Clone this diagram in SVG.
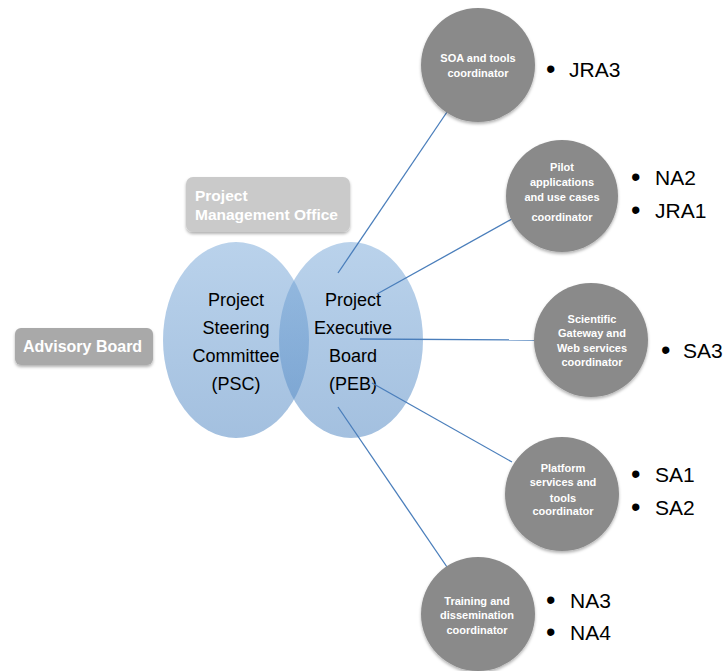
<svg xmlns="http://www.w3.org/2000/svg" width="726" height="671" viewBox="0 0 726 671">
<defs>
<linearGradient id="blue" x1="0" y1="0" x2="0" y2="1">
<stop offset="0" stop-color="#7aa9d9"/>
<stop offset="1" stop-color="#4f86c2"/>
</linearGradient>
<filter id="sh" x="-20%" y="-20%" width="140%" height="150%">
<feDropShadow dx="0" dy="2" stdDeviation="1.5" flood-color="#000" flood-opacity="0.3"/>
</filter>
</defs>
<style>
.oval{fill:url(#blue);fill-opacity:0.52}
.otxt{font-family:"Liberation Sans",Arial,sans-serif;font-size:18px;fill:#000;text-anchor:middle}
.box{filter:url(#sh)}
.btxt{font-family:"Liberation Sans",Arial,sans-serif;font-weight:bold;fill:#fff}
.circ{fill:#8a8a8a;filter:url(#sh)}
.ctxt{font-family:"Liberation Sans",Arial,sans-serif;font-weight:bold;font-size:11px;fill:#fff;text-anchor:middle}
.bul{font-family:"Liberation Sans",Arial,sans-serif;font-size:21px;fill:#000}
.dot{font-family:"Liberation Sans",Arial,sans-serif;font-size:27px;fill:#000}
.conn{stroke:#4a7ebb;stroke-width:1.3;fill:none}
</style>
<rect width="726" height="671" fill="#fff"/>

<g id="pmo">
<rect class="box" x="186" y="177" width="164" height="55" rx="7" fill="#cacaca"/>
<text class="btxt" font-size="15.5" x="195" y="201">Project</text>
<text class="btxt" font-size="15.5" x="195" y="220">Management Office</text>
</g>

<g id="advisory">
<rect class="box" x="15" y="328" width="138" height="37" rx="6" fill="#a9a9a9"/>
<text class="btxt" font-size="16" x="23" y="352">Advisory Board</text>
</g>

<g id="psc">
<ellipse class="oval" cx="236" cy="340" rx="73" ry="98"/>
<text class="otxt" x="236" y="306">Project</text>
<text class="otxt" x="236" y="334">Steering</text>
<text class="otxt" x="236" y="362">Committee</text>
<text class="otxt" x="236" y="390">(PSC)</text>
</g>

<g id="peb">
<ellipse class="oval" cx="351" cy="340" rx="72" ry="98"/>
<text class="otxt" x="353" y="306">Project</text>
<text class="otxt" x="353" y="334">Executive</text>
<text class="otxt" x="353" y="362">Board</text>
<text class="otxt" x="353" y="390">(PEB)</text>
</g>

<g id="connectors">
<line class="conn" x1="338" y1="273" x2="447" y2="112"/>
<line class="conn" x1="377" y1="294" x2="512" y2="219"/>
<line class="conn" x1="360" y1="339" x2="535" y2="340"/>
<line class="conn" x1="372" y1="383" x2="512" y2="462"/>
<line class="conn" x1="338" y1="407" x2="447" y2="567"/>
</g>

<g id="soa">
<circle class="circ" cx="478" cy="65" r="57"/>
<text class="ctxt" x="478" y="62">SOA and tools</text>
<text class="ctxt" x="478" y="77">coordinator</text>
<text class="dot" x="546" y="78">•</text>
<text class="bul" x="569" y="77">JRA3</text>
</g>

<g id="pilot">
<circle class="circ" cx="562" cy="196" r="56"/>
<text class="ctxt" x="562" y="171">Pilot</text>
<text class="ctxt" x="562" y="186">applications</text>
<text class="ctxt" x="562" y="201">and use cases</text>
<text class="ctxt" x="562" y="221">coordinator</text>
<text class="dot" x="631" y="186">•</text>
<text class="bul" x="655" y="185">NA2</text>
<text class="dot" x="631" y="219">•</text>
<text class="bul" x="655" y="218">JRA1</text>
</g>

<g id="scientific">
<circle class="circ" cx="591" cy="340" r="57"/>
<text class="ctxt" x="592" y="323">Scientific</text>
<text class="ctxt" x="592" y="337">Gateway and</text>
<text class="ctxt" x="592" y="352">Web services</text>
<text class="ctxt" x="592" y="366">coordinator</text>
<text class="dot" x="661" y="359">•</text>
<text class="bul" x="683" y="358">SA3</text>
</g>

<g id="platform">
<circle class="circ" cx="562" cy="494" r="57"/>
<text class="ctxt" x="563" y="472">Platform</text>
<text class="ctxt" x="563" y="486">services and</text>
<text class="ctxt" x="563" y="502">tools</text>
<text class="ctxt" x="563" y="515">coordinator</text>
<text class="dot" x="631" y="483">•</text>
<text class="bul" x="655" y="482">SA1</text>
<text class="dot" x="631" y="516">•</text>
<text class="bul" x="655" y="515">SA2</text>
</g>

<g id="training">
<circle class="circ" cx="478" cy="614" r="57"/>
<text class="ctxt" x="477" y="605">Training and</text>
<text class="ctxt" x="477" y="619">dissemination</text>
<text class="ctxt" x="477" y="634">coordinator</text>
<text class="dot" x="546" y="609">•</text>
<text class="bul" x="570" y="608">NA3</text>
<text class="dot" x="546" y="641">•</text>
<text class="bul" x="570" y="640">NA4</text>
</g>
</svg>
